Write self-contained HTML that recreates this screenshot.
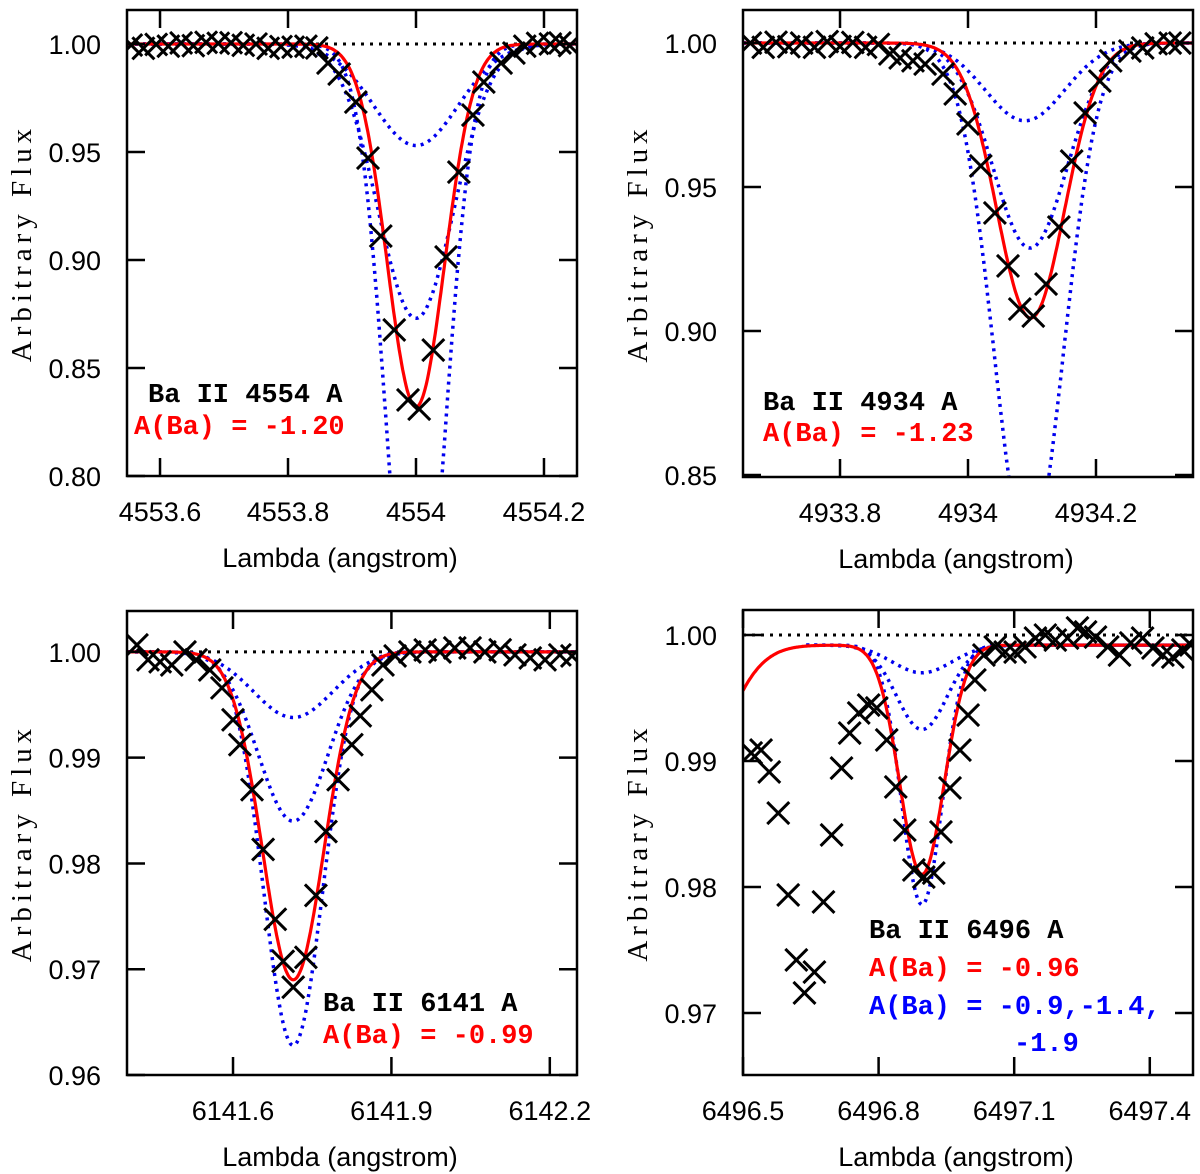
<!DOCTYPE html>
<html><head><meta charset="utf-8">
<style>
html,body{margin:0;padding:0;background:#fff;}
svg{display:block;}
.tick{font-family:"Liberation Sans",sans-serif;font-size:27px;fill:#000;}
.ytitle{font-family:"Liberation Serif",serif;font-size:29px;letter-spacing:5px;fill:#000;}
.ann{font-family:"Liberation Mono",monospace;font-size:27px;font-weight:bold;}
</style></head>
<body>
<svg id="fig" width="1200" height="1174" viewBox="0 0 1200 1174" xmlns="http://www.w3.org/2000/svg"></svg>
<script>
// ---------- DATA ----------
// Panel 1: Ba II 4554
const p1Lambda=[4553.555,4553.574,4553.594,4553.613,4553.633,4553.652,4553.672,4553.691,4553.711,4553.730,4553.750,4553.769,4553.789,4553.808,4553.828,4553.845,
 4553.8625,4553.880,4553.906,4553.925,4553.945,4553.966,4553.9875,4554.005,4554.027,4554.047,4554.067,4554.089,4554.106,4554.133,4554.153,4554.17,4554.19,4554.21,4554.225,4554.24];
const p1Flux=[0.9995,0.998,0.9998,0.999,1.0005,0.9992,1.0008,1.0003,1.0006,0.9994,1.0,0.998,0.9988,0.9985,0.999,0.9982,
 0.9912,0.9861,0.9731,0.9472,0.9111,0.8676,0.8352,0.8310,0.8583,0.9014,0.9407,0.9671,0.9824,0.9912,0.9958,0.9990,1.0003,1.0,1.0005,0.9993];
const p1ModelCenter=[4554.0,4554.0,4554.0,4554.0];
const p1ModelDepth=[0.168,0.047,0.127,0.304];
const p1ModelSigma=[0.0447,0.066,0.059,0.0444];

// Panel 2: Ba II 4934
const p2Lambda=[4933.66,4933.68,4933.70,4933.72,4933.74,4933.76,4933.78,4933.80,4933.82,4933.84,4933.86,
 4933.878,4933.894,4933.914,4933.933,4933.961,4933.980,4934.000,4934.020,4934.042,4934.0625,4934.081,4934.102,4934.122,4934.142,4934.162,4934.183,4934.206,4934.223,4934.253,4934.273,4934.294,4934.316,4934.331];
const p2Flux=[1.0,0.9985,1.0003,0.9987,1.0,0.9985,1.0005,0.9988,1.0002,0.9985,0.9995,
 0.9962,0.9948,0.9938,0.9927,0.9892,0.9823,0.9719,0.9573,0.9410,0.9226,0.9076,0.9052,0.9163,0.9361,0.9590,0.9757,0.9868,0.9938,0.9972,0.9983,0.9997,1.0,1.0];
const p2ModelCenter=[4934.098,4934.089,4934.097,4934.095];
const p2ModelDepth=[0.0955,0.027,0.0712,0.178];
const p2ModelSigma=[0.053,0.062,0.058,0.054];

// Panel 3: Ba II 6141
const p3Lambda=[6141.418,6141.439,6141.462,6141.484,6141.509,6141.530,6141.556,6141.579,6141.600,6141.613,6141.636,6141.657,6141.680,6141.695,6141.714,6141.738,6141.757,6141.776,6141.799,6141.825,6141.841,6141.863,6141.884,6141.907,6141.935,6141.964,6141.992,6142.020,6142.049,6142.077,6142.106,6142.134,6142.163,6142.191,6142.219,6142.242];
const p3Flux=[1.00066,0.99925,0.99906,0.99877,1.0,0.99925,0.9983,0.9966,0.99358,0.99123,0.98698,0.98132,0.97472,0.97075,0.9683,0.97113,0.97698,0.98302,0.98792,0.99123,0.99396,0.99642,0.99877,0.99962,1.0,1.00019,1.0,1.00038,1.00038,1.0,1.0002,0.99972,0.99943,0.99925,0.99972,0.99962];
const p3ModelCenter=[6141.714,6141.714,6141.714,6141.714];
const p3ModelDepth=[0.031,0.0062,0.016,0.0372];
const p3ModelSigma=[0.058,0.075,0.066,0.056];

// Panel 4: Ba II 6496
const p4Lambda=[6496.518,6496.540,6496.558,6496.578,6496.600,6496.618,6496.636,6496.658,6496.678,6496.696,6496.718,6496.736,6496.756,6496.778,6496.796,6496.818,6496.838,6496.858,6496.878,6496.900,6496.922,6496.938,6496.958,6496.980,6496.998,6497.013,6497.033,6497.058,6497.080,6497.102,6497.124,6497.147,6497.169,6497.191,6497.218,6497.240,6497.258,6497.280,6497.307,6497.333,6497.358,6497.384,6497.407,6497.429,6497.451,6497.473,6497.491];
const p4Flux=[0.99064,0.99087,0.98913,0.98587,0.97937,0.97421,0.97159,0.97325,0.97881,0.98413,0.98944,0.99222,0.99381,0.99444,0.99421,0.99167,0.98794,0.98452,0.98135,0.98079,0.98111,0.98437,0.98786,0.99087,0.99365,0.99643,0.99841,0.99905,0.99865,0.99865,0.99905,0.99976,1.0,0.9996,0.99976,1.00056,1.00024,0.99984,0.99905,0.99841,0.99937,0.99976,0.99897,0.99841,0.99825,0.99881,0.99921];
const p4ModelCenter=[6496.896,6496.896,6496.896,6496.896];
const p4ModelDepth=[0.0182,0.0022,0.0067,0.0206];
const p4ModelSigma=[0.049,0.066,0.056,0.045];
const p4Continuum=0.9992;
const p4BlendCenter=6496.35, p4BlendDepth=0.0145, p4BlendSigma=0.09;

const p1XTicks=[4553.6,4553.8,4554.0,4554.2], p1XLabels=["4553.6","4553.8","4554","4554.2"];
const p1YTicks=[0.80,0.85,0.90,0.95,1.00], p1YLabels=["0.80","0.85","0.90","0.95","1.00"];
const p2XTicks=[4933.8,4934.0,4934.2], p2XLabels=["4933.8","4934","4934.2"];
const p2YTicks=[0.85,0.90,0.95,1.00], p2YLabels=["0.85","0.90","0.95","1.00"];
const p3XTicks=[6141.6,6141.9,6142.2], p3XLabels=["6141.6","6141.9","6142.2"];
const p3YTicks=[0.96,0.97,0.98,0.99,1.00], p3YLabels=["0.96","0.97","0.98","0.99","1.00"];
const p4XTicks=[6496.5,6496.8,6497.1,6497.4], p4XLabels=["6496.5","6496.8","6497.1","6497.4"];
const p4YTicks=[0.97,0.98,0.99,1.00], p4YLabels=["0.97","0.98","0.99","1.00"];

// ---------- DRAW ----------
const NS="http://www.w3.org/2000/svg";
const svg=document.getElementById('fig');
function mk(tag,parent){const e=document.createElementNS(NS,tag);parent.appendChild(e);return e;}

const panels=[
 {box:[127,10,577,476],x:[4553.5484,4554.2516],y:[0.80,1.01574],lam:p1Lambda,flux:p1Flux,c:p1ModelCenter,d:p1ModelDepth,s:p1ModelSigma,cont:1.0,
  xt:p1XTicks,xl:p1XLabels,yt:p1YTicks,yl:p1YLabels,
  ann:[["Ba II 4554 A",148,402,"#000"],["A(Ba) = -1.20",134,434,"#f00"]]},
 {box:[743,10,1193,477],x:[4933.6484,4934.3516],y:[0.8493,1.01146],lam:p2Lambda,flux:p2Flux,c:p2ModelCenter,d:p2ModelDepth,s:p2ModelSigma,cont:1.0,
  xt:p2XTicks,xl:p2XLabels,yt:p2YTicks,yl:p2YLabels,
  ann:[["Ba II 4934 A",763,410,"#000"],["A(Ba) = -1.23",763,441,"#f00"]]},
 {box:[127,611,577,1075],x:[6141.3992,6142.2515],y:[0.96,1.003868],lam:p3Lambda,flux:p3Flux,c:p3ModelCenter,d:p3ModelDepth,s:p3ModelSigma,cont:1.0,
  xt:p3XTicks,xl:p3XLabels,yt:p3YTicks,yl:p3YLabels,
  ann:[["Ba II 6141 A",323,1011,"#000"],["A(Ba) = -0.99",323,1043,"#f00"]]},
 {box:[743,610,1193,1075],x:[6496.5,6497.4956],y:[0.965079,1.001984],lam:p4Lambda,flux:p4Flux,c:p4ModelCenter,d:p4ModelDepth,s:p4ModelSigma,cont:p4Continuum,blend:true,
  xt:p4XTicks,xl:p4XLabels,yt:p4YTicks,yl:p4YLabels,
  ann:[["Ba II 6496 A",869,938,"#000"],["A(Ba) = -0.96",869,976,"#f00"],["A(Ba) = -0.9,-1.4,",869,1014,"#00f"],["-1.9",1014,1051,"#00f"]]}
];

panels.forEach((P,pi)=>{
  const [x0,y0,x1,y1]=P.box;
  const sx=v=>x0+(v-P.x[0])/(P.x[1]-P.x[0])*(x1-x0);
  const sy=v=>y1-(v-P.y[0])/(P.y[1]-P.y[0])*(y1-y0);
  const g=mk('g',svg);
  
  
  const cp=mk('clipPath',g); cp.setAttribute('id','clip'+pi);
  const cr=mk('rect',cp); cr.setAttribute('x',x0);cr.setAttribute('y',y0);cr.setAttribute('width',x1-x0);cr.setAttribute('height',y1-y0);
  const plot=mk('g',g); plot.setAttribute('clip-path','url(#clip'+pi+')');
  
  

  const cl=mk('line',plot);
  
  
  cl.setAttribute('x1',x0);cl.setAttribute('x2',x1);cl.setAttribute('y1',sy(1));cl.setAttribute('y2',sy(1));
  cl.setAttribute('stroke','#000');cl.setAttribute('stroke-width',3);cl.setAttribute('stroke-dasharray','3 6');

  const order=[1,2,3,0];
  order.forEach(k=>{
    let pts=[];
    const lo=(P.blend&&k>0)?6496.64:P.x[0];
    const N=400;
    for(let i=0;i<=N;i++){
      const l=lo+(P.x[1]-lo)*i/N;
      let f=P.cont-P.d[k]*Math.exp(-Math.pow(l-P.c[k],2)/(2*P.s[k]*P.s[k]));
      if(P.blend&&k===0) f-=p4BlendDepth*Math.exp(-Math.pow(l-p4BlendCenter,2)/(2*p4BlendSigma*p4BlendSigma));
      pts.push(sx(l).toFixed(1)+','+sy(f).toFixed(1));
    }
    const pl=mk('polyline',plot);
    
    
    pl.setAttribute('points',pts.join(' '));
    pl.setAttribute('fill','none');
    if(k===0){pl.setAttribute('stroke','#f00');pl.setAttribute('stroke-width',3.2);}
    else{pl.setAttribute('stroke','#0000ee');pl.setAttribute('stroke-width',3.5);pl.setAttribute('stroke-dasharray','3 5');}
  });

  const og=mk('g',plot);
  
  
  P.lam.forEach((l,i)=>{
    const cx=sx(l), cy=sy(P.flux[i]), r=11;
    const p=mk('path',og);
    
    
    p.setAttribute('d',`M${cx-r},${cy-r}L${cx+r},${cy+r}M${cx-r},${cy+r}L${cx+r},${cy-r}`);
    p.setAttribute('stroke','#000');p.setAttribute('stroke-width',3);
  });

  const fr=mk('rect',g);
  
  
  fr.setAttribute('x',x0);fr.setAttribute('y',y0);fr.setAttribute('width',x1-x0);fr.setAttribute('height',y1-y0);
  fr.setAttribute('fill','none');fr.setAttribute('stroke','#000');fr.setAttribute('stroke-width',2.5);

  const T=18;
  P.xt.forEach((v,i)=>{
    const x=sx(v);
    [[y1,y1-T],[y0,y0+T]].forEach(a=>{
      const t=mk('line',g);
      
      
      t.setAttribute('x1',x);t.setAttribute('x2',x);t.setAttribute('y1',a[0]);t.setAttribute('y2',a[1]);
      t.setAttribute('stroke','#000');t.setAttribute('stroke-width',2.5);
    });
    const tx=mk('text',g);
    
    
    tx.setAttribute('class','tick');tx.setAttribute('x',x);tx.setAttribute('y',y1+45);tx.setAttribute('text-anchor','middle');
    tx.textContent=P.xl[i];
  });
  P.yt.forEach((v,i)=>{
    const y=sy(v);
    [[x0,x0+T],[x1,x1-T]].forEach(a=>{
      const t=mk('line',g);
      
      
      t.setAttribute('x1',a[0]);t.setAttribute('x2',a[1]);t.setAttribute('y1',y);t.setAttribute('y2',y);
      t.setAttribute('stroke','#000');t.setAttribute('stroke-width',2.5);
    });
    const tx=mk('text',g);
    
    
    tx.setAttribute('class','tick');tx.setAttribute('x',x0-26);tx.setAttribute('y',y+10);tx.setAttribute('text-anchor','end');
    tx.textContent=P.yl[i];
  });

  const xtit=mk('text',g);
  
  
  xtit.setAttribute('class','tick');xtit.setAttribute('x',(x0+x1)/2-12);xtit.setAttribute('y',y1+91);xtit.setAttribute('text-anchor','middle');
  xtit.textContent='Lambda (angstrom)';
  const ytit=mk('text',g);
  
  
  const yc=(y0+y1)/2, xc=x0-96;
  ytit.setAttribute('class','ytitle');ytit.setAttribute('x',xc);ytit.setAttribute('y',yc);ytit.setAttribute('text-anchor','middle');
  ytit.setAttribute('transform',`rotate(-90 ${xc} ${yc})`);
  ytit.textContent='Arbitrary Flux';

  P.ann.forEach((a,i)=>{
    const t=mk('text',g);
    
    
    t.setAttribute('class','ann');t.setAttribute('x',a[1]);t.setAttribute('y',a[2]);t.setAttribute('fill',a[3]);
    t.setAttribute('xml:space','preserve');
    t.textContent=a[0];
  });
});
</script>
</body></html>
